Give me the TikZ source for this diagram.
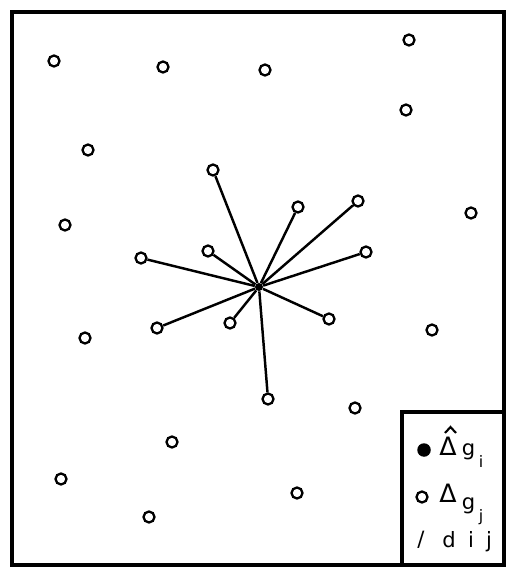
\documentclass[tikz,border=0pt]{standalone}
\usepackage{fontspec}
\setsansfont{DejaVu Sans}
\usetikzlibrary{positioning}
\begin{document}
\begin{tikzpicture}[x=0.02cm,y=-0.02cm,
  pt/.style={circle,draw,line width=1.3pt,inner sep=0pt,minimum size=0.22cm},
  ctr/.style={circle,fill=black,inner sep=0pt,minimum size=0.16cm},
  spoke/.style={line width=1.4pt},
  lbl/.style={font=\sffamily\large,anchor=base west,inner sep=0pt}]
\useasboundingbox (0,0) rectangle (506,567);
\draw[line width=1.8pt] (12,12) rectangle (504,565);
% unconnected points
\foreach \n/\x/\y in {1/54/61,2/163/67,3/265/70,4/409/40,5/406/110,6/88/150,7/65/225,
  8/471/213,9/85/338,10/432/330,11/355/408,12/172/442,13/61/479,14/297/493,15/149/517} {
  \node[pt] (o\n) at (\x,\y) {};
}
% centre and its neighbours
\node[ctr] (c) at (259,287) {};
\foreach \n/\x/\y in {1/213/170,2/298/207,3/358/201,4/366/252,5/208/251,6/141/258,
  7/157/328,8/230/323,9/329/319,10/268/399} {
  \node[pt] (s\n) at (\x,\y) {};
  \draw[spoke] (c) -- (s\n);
}
% legend
\draw[line width=1.8pt] (402,565) -- (402,412) -- (504,412);
\node[circle,fill=black,inner sep=0pt,minimum size=0.27cm] (k1) at (424,450) {};
\node[pt] (k2) at (422,497) {};
\node[font=\sffamily\large,inner sep=0pt] (k3) at (421,540) {/};
\node[lbl] (t1) at (439,455) {{\Large Δ}\hspace{3pt}g\hspace{2pt}\raisebox{-7pt}{\small i}};
\draw[line width=1.2pt] (445,433) -- (450.5,427) -- (456,433);
\node[lbl] (t2) at (439,502) {{\Large Δ}\hspace{3pt}\raisebox{-4pt}{g}\hspace{2pt}\raisebox{-11pt}{\small j}};
\node[lbl] (t3) at (442,547) {d\hspace{7pt}i\hspace{7pt}j};
\end{tikzpicture}
\end{document}
